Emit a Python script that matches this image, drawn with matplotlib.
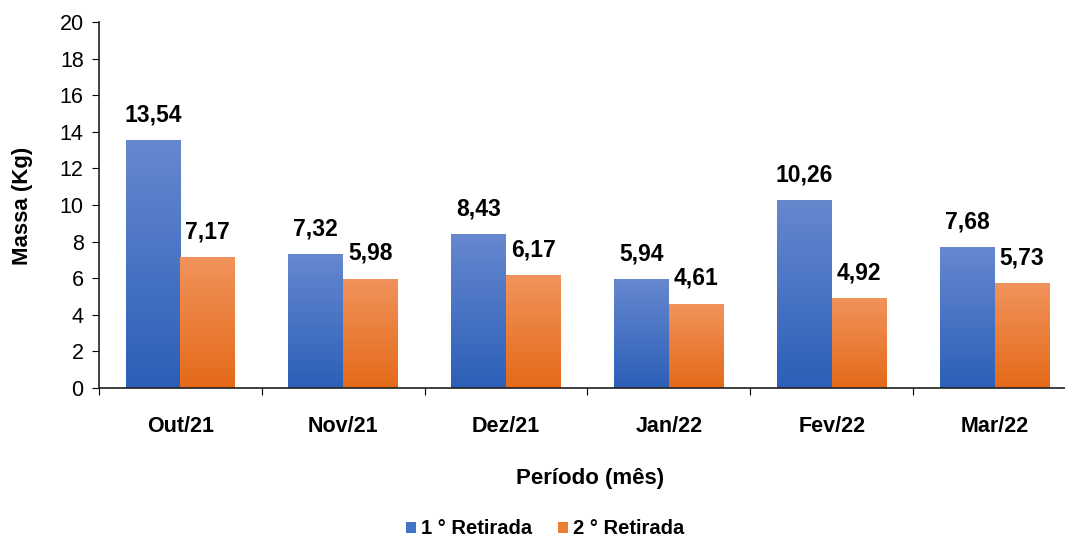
import matplotlib
matplotlib.use("Agg")
import matplotlib.pyplot as plt
import numpy as np
from matplotlib.colors import LinearSegmentedColormap
from matplotlib.patches import Patch

plt.rcParams['font.family'] = ['Liberation Sans', 'DejaVu Sans']

periods = ['Out/21', 'Nov/21', 'Dez/21', 'Jan/22', 'Fev/22', 'Mar/22']
first_removal = [13.54, 7.32, 8.43, 5.94, 10.26, 7.68]
second_removal = [7.17, 5.98, 6.17, 4.61, 4.92, 5.73]
series_names = ['1 ° Retirada', '2 ° Retirada']

blue_grad = LinearSegmentedColormap.from_list('blue_grad', ['#2c5fb8', '#6688cf'])
orange_grad = LinearSegmentedColormap.from_list('orange_grad', ['#e46a18', '#f1935c'])


def gradient_bars(ax, x, heights, width, cmap):
    bars = ax.bar(x, heights, width=width, color='none', edgecolor='none')
    grad = np.linspace(0, 1, 256).reshape(-1, 1)
    for rect in bars:
        x0, y0 = rect.get_x(), rect.get_y()
        w, h = rect.get_width(), rect.get_height()
        im = ax.imshow(grad, cmap=cmap, origin='lower', aspect='auto',
                       extent=[x0, x0 + w, y0, y0 + h], zorder=2)
        im.set_clip_path(rect)
    return bars


def fmt(v):
    return f"{v:.2f}".replace('.', ',')


fig = plt.figure(figsize=(10.65, 5.42), dpi=100)
ax = fig.add_axes([99 / 1065, 1 - 388 / 542, 977 / 1065, 366 / 542])

x = np.arange(len(periods))
w = 0.337
gradient_bars(ax, x - w / 2, first_removal, w, blue_grad)
gradient_bars(ax, x + w / 2, second_removal, w, orange_grad)

for xi, v in zip(x - w / 2, first_removal):
    ax.text(xi, v + 0.75, fmt(v), ha='center', va='bottom', fontsize=16.5, fontweight='bold')
for xi, v in zip(x + w / 2, second_removal):
    ax.text(xi, v + 0.75, fmt(v), ha='center', va='bottom', fontsize=16.5, fontweight='bold')

ax.set_xlim(-0.5, len(periods) - 0.5)
ax.set_ylim(0, 20)
ax.set_yticks(np.arange(0, 21, 2))
ax.tick_params(axis='y', labelsize=15.5, length=5, direction='out', pad=6)

ax.set_xticks(np.arange(-0.5, len(periods), 1.0))
ax.set_xticklabels([])
ax.set_xticks(x, minor=True)
ax.set_xticklabels(periods, minor=True, fontsize=15.5, fontweight='bold')
ax.tick_params(axis='x', which='major', length=5, direction='out')
ax.tick_params(axis='x', which='minor', length=0, pad=20)

for side in ['top', 'right']:
    ax.spines[side].set_visible(False)
for side in ['left', 'bottom']:
    ax.spines[side].set_color('#202020')
    ax.spines[side].set_linewidth(1.2)

ax.set_ylabel('Massa (Kg)', fontsize=16, fontweight='bold')
ax.yaxis.set_label_coords(-(99 - 33) / 977, (388 - 206) / 366)
ax.set_xlabel('Período (mês)', fontsize=16, fontweight='bold')
ax.xaxis.set_label_coords((590 - 99) / 977, -(468 - 388) / 366)

handles = [Patch(facecolor='#4472c4'), Patch(facecolor='#ed7d31')]
fig.legend(handles, series_names, loc='center', bbox_to_anchor=(545 / 1065, 1 - 529 / 542),
           ncol=2, frameon=False, prop={'size': 14.5, 'weight': 'bold'},
           handlelength=0.5, handleheight=0.5, handletextpad=0.25, columnspacing=1.3)

fig.savefig('out.png', dpi=100)
